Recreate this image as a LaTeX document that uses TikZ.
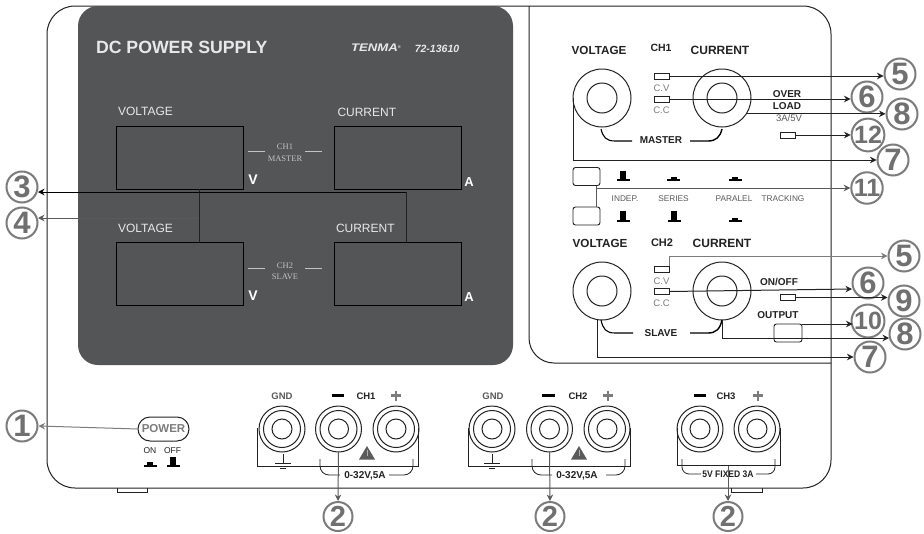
\documentclass[tikz,border=0pt]{standalone}
\usepackage{graphicx}
\usepackage{fontspec}
\setmainfont{Liberation Sans}
\newfontfamily\serifx{Liberation Serif}
\usetikzlibrary{arrows.meta}
\definecolor{panel}{HTML}{545557}
\definecolor{ink}{HTML}{222222}
\definecolor{mid}{HTML}{5A5A5A}
\definecolor{soft}{HTML}{7C7C7C}
\definecolor{light}{HTML}{E8E8E8}
\newcommand\fsz[1]{\fontsize{#1}{#1}\selectfont}
\tikzset{
  edge/.style={draw=ink,line width=1pt},
  txt/.style={inner sep=0pt,outer sep=0pt,text=black},
  lbl/.style={txt,font=\fsz{12}},
  blbl/.style={txt,font=\fsz{11.7}\bfseries,text=ink},
  slbl/.style={txt,font=\fsz{10}\bfseries,text=ink},
  tiny/.style={txt,font=\fsz{8.3},text=mid},
  dlbl/.style={txt,font=\fsz{12},text=light},
  disp/.style={draw=black,line width=0.9pt,minimum width=127,minimum height=63,inner sep=0pt,outer sep=0pt},
  knob/.style={circle,draw=ink,line width=1pt,minimum size=58,inner sep=0pt,outer sep=0pt},
  post/.style={circle,draw=ink,line width=1pt,minimum size=46,inner sep=0pt,outer sep=0pt},
  led/.style={draw=ink,line width=0.8pt,minimum width=15,minimum height=6,inner sep=0pt,outer sep=0pt},
  pushb/.style={draw=ink,line width=0.9pt,rounded corners=2.5,minimum width=27,minimum height=18,inner sep=0pt,outer sep=0pt},
  callout/.style={circle,draw=soft,line width=2pt,minimum size=31,inner sep=0pt,outer sep=1pt,text=soft!90!black,font=\fsz{31}\bfseries},
  calloutw/.style={callout,font=\fsz{25}\bfseries},
  con/.style={line width=1pt,draw=ink,-{Stealth[length=6.5pt,width=6.5pt]}},
  cong/.style={con,draw=mid},
  conl/.style={con,draw=soft},
}
% mini push-button: x, base y, body height
\newcommand\btnmark[3]{\fill[black] (#1-6.5,#2) rectangle (#1+6.5,#2-1.6);\fill[black] (#1-3,#2) rectangle (#1+3,#2-#3);}
\newcommand\groundmark[2]{\draw[ink,line width=0.8pt] (#1,#2-9)--(#1,#2) (#1-8,#2)--(#1+8,#2) (#1-6,#2+3)--(#1+6,#2+3) (#1-3,#2+5.5)--(#1+3,#2+5.5);}
\newcommand\warnmark[1]{\fill[mid] (#1-8,459.5)--(#1+8,459.5)--(#1,446)--cycle;\draw[light!60!mid,line width=0.5pt] (#1,450)--(#1,456);}
\newcommand\postrings[1]{\draw[ink,line width=1pt] (#1,429) circle[radius=18.5] (#1,429) circle[radius=10];}
\begin{document}
\begin{tikzpicture}[x=1pt,y=-1pt]
\useasboundingbox (0,0) rectangle (924,533);
\fill[white] (0,0) rectangle (924,533);
% faceplate
\draw[edge,rounded corners=28] (47,6) rectangle (831,488);
\draw[edge] (117,488)--(117,492)--(147,492)--(147,488);
\draw[edge] (731,488)--(731,492)--(762,492)--(762,488);
\fill[panel,rounded corners=20] (78,6) rectangle (513,365);
\draw[edge,rounded corners=25] (529,6)--(529,363)--(831,363);
% display panel
\node[txt,text=light,font=\fsz{17.7}\bfseries,anchor=west] (title) at (96,47) {DC POWER SUPPLY};
\node[txt,text=light,font=\fsz{11}\bfseries\itshape] (brand) at (376,48) {\scalebox{1.2}[1]{TENMA}\raisebox{3pt}{\fsz{4}®}};
\node[txt,text=light,font=\fsz{10.5}\itshape\bfseries] (model) at (437,49) {72-13610};
\node[dlbl,anchor=west] (tv1) at (118,111.5) {VOLTAGE};
\node[dlbl,anchor=west] (tc1) at (337.5,112) {CURRENT};
\node[dlbl,anchor=west] (tv2) at (118,228) {VOLTAGE};
\node[dlbl,anchor=west] (tc2) at (336,228) {CURRENT};
\node[disp] (d1v) at (179.5,157.5) {};
\node[disp] (d1c) at (398,157.5) {};
\node[disp] (d2v) at (179.5,273.5) {};
\node[disp] (d2c) at (398,273.5) {};
\node[txt,text=white,font=\fsz{14}\bfseries] (uv1) at (253,180) {V};
\node[txt,text=white,font=\fsz{13}\bfseries] (ua1) at (469,182) {A};
\node[txt,text=white,font=\fsz{14}\bfseries] (uv2) at (253,296) {V};
\node[txt,text=white,font=\fsz{13}\bfseries] (ua2) at (469,297) {A};
\node[txt,text=light!75!panel,font=\fsz{8.5}\serifx] (m1a) at (285,147) {CH1};
\node[txt,text=light!75!panel,font=\fsz{8.5}\serifx] (m1b) at (285,159) {MASTER};
\node[txt,text=light!75!panel,font=\fsz{8.5}\serifx] (m2a) at (285,266) {CH2};
\node[txt,text=light!75!panel,font=\fsz{8.5}\serifx] (m2b) at (285,277) {SLAVE};
\draw[light!75!panel,line width=1pt] (248,151)--(265,151) (305,151)--(322,151) (248,268.5)--(265,268.5) (305,268.5)--(322,268.5);
% CH1 controls
\node[blbl] (v1) at (599,50) {VOLTAGE};
\node[txt,font=\fsz{10.5}\bfseries,text=ink] (ch1) at (661,48) {CH1};
\node[txt,font=\fsz{12}\bfseries,text=ink] (c1) at (720,50) {CURRENT};
\node[knob] (k1v) at (602,98) {};
\node[knob] (k1c) at (722,98) {};
\draw[ink,line width=1pt] (602,98) circle[radius=15] (722,98) circle[radius=15];
\node[led] (l1) at (661.5,76) {};
\node[led] (l2) at (661.5,99) {};
\node[txt,font=\fsz{9.5},text=soft] (cv1) at (661.5,88) {C.V};
\node[txt,font=\fsz{9.5},text=soft] (cc1) at (661.5,110.5) {C.C};
\node[slbl] (ol1) at (787,94) {OVER};
\node[slbl] (ol2) at (787,106) {LOAD};
\node[txt,font=\fsz{9.5},text=mid] (ol3) at (789,118.5) {3A/5V};
\node[led] (l3) at (788,135) {};
\node[slbl] (master) at (661,140) {MASTER};
\draw[black,line width=1.1pt] (601,129) .. controls (603,137) and (606,141) .. (615,141) -- (632,141);
\draw[black,line width=1.4pt] (690,141) -- (708,141) .. controls (716,141) and (720,137) .. (722,129);
% mode buttons
\node[pushb] (b1) at (586.5,176.5) {};
\node[pushb] (b2) at (586.5,216) {};
\btnmark{623}{181}{10}
\btnmark{673.5}{181}{4}
\btnmark{735}{181}{4}
\btnmark{623}{222}{11}
\btnmark{674}{222}{11}
\btnmark{735}{222}{4}
\node[tiny] (i1) at (625,199) {INDEP.};
\node[tiny] (i2) at (673.5,199) {SERIES};
\node[tiny] (i3) at (734,199) {PARALEL};
\node[tiny] (i4) at (783,199) {TRACKING};
% CH2 controls
\node[blbl] (v2) at (600,243) {VOLTAGE};
\node[txt,font=\fsz{11}\bfseries,text=ink] (ch2) at (662,243) {CH2};
\node[txt,font=\fsz{12}\bfseries,text=ink] (c2) at (722,243) {CURRENT};
\node[knob] (k2v) at (602,291) {};
\node[knob] (k2c) at (722,291) {};
\draw[ink,line width=1pt] (602,291) circle[radius=15] (722,291) circle[radius=15];
\node[led] (l4) at (661.5,269) {};
\node[led] (l5) at (661.5,291.5) {};
\node[txt,font=\fsz{9.5},text=soft] (cv2) at (661.5,281) {C.V};
\node[txt,font=\fsz{9.5},text=soft] (cc2) at (661.5,303) {C.C};
\node[slbl] (onoff) at (779,282) {ON/OFF};
\node[led] (l6) at (788,297.5) {};
\node[slbl] (outp) at (778,315) {OUTPUT};
\node[pushb,minimum width=28,minimum height=18] (bo) at (788,333) {};
\node[slbl] (slave) at (661,333.5) {SLAVE};
\draw[black,line width=1.1pt] (601,320) .. controls (603,329) and (606,333) .. (615,333) -- (633,333);
\draw[black,line width=1.4pt] (690,333) -- (708,333) .. controls (716,333) and (720,329) .. (722,320);
% POWER
\node[draw=ink,line width=1pt,rounded corners=12,minimum width=51,minimum height=24,inner sep=0pt,outer sep=0pt,text=soft,font=\fsz{11.5}\bfseries] (power) at (163.5,429) {POWER};
\node[txt,font=\fsz{8.5},text=ink] (on) at (150,451) {ON};
\node[txt,font=\fsz{8.5},text=ink] (off) at (172.5,451) {OFF};
\btnmark{150}{467}{5}
\btnmark{173}{467}{10}
% terminals
\node[txt,font=\fsz{9.5}\bfseries,text=mid] (g1) at (282,396) {GND};
\node[txt,font=\fsz{9.5}\bfseries,text=ink] (t1) at (366,396) {CH1};
\node[txt,font=\fsz{9.5}\bfseries,text=mid] (g2) at (493,396) {GND};
\node[txt,font=\fsz{9.5}\bfseries,text=ink] (t2) at (578,396) {CH2};
\node[txt,font=\fsz{9.5}\bfseries,text=ink] (t3) at (726,396) {CH3};
\draw[black,line width=2.4pt] (331.5,395.5)--(344,395.5) (542,395.5)--(554.5,395.5) (694,395.5)--(706,395.5);
\draw[soft,line width=2.2pt] (391,395.5)--(401,395.5) (396,390.5)--(396,400.5) (603,395.5)--(613,395.5) (608,390.5)--(608,400.5) (753,395.5)--(763,395.5) (758,390.5)--(758,400.5);
\node[post] (p1) at (282,429) {};
\node[post] (p2) at (338.5,429) {};
\node[post] (p3) at (396,429) {};
\node[post] (p4) at (492,429) {};
\node[post] (p5) at (549.5,429) {};
\node[post] (p6) at (607,429) {};
\node[post] (p7) at (700,429) {};
\node[post] (p8) at (757,429) {};
\postrings{282}\postrings{338.5}\postrings{396}\postrings{492}\postrings{549.5}\postrings{607}\postrings{700}\postrings{757}
\draw[edge] (257,428)--(257,466)--(418,466)--(418,428);
\draw[edge] (468,428)--(468,466)--(630,466)--(630,428);
\draw[edge] (677,428)--(677,465.5)--(780,465.5)--(780,428);
\groundmark{283}{463}
\groundmark{492}{463}
\warnmark{367}
\warnmark{579}
\node[txt,font=\fsz{10}\bfseries,text=ink] (r1) at (365,476) {0-32V,5A};
\node[txt,font=\fsz{10}\bfseries,text=ink] (r2) at (577,476) {0-32V,5A};
\node[txt,font=\fsz{9.5}\bfseries,text=ink] (r3) at (728,474) {\scalebox{0.9}[1]{5V FIXED 3A}};
\draw[ink,line width=0.8pt,rounded corners=9] (320,459)--(320,475)--(340,475) (389,475)--(413,475)--(413,459);
\draw[ink,line width=0.8pt,rounded corners=9] (532,459)--(532,475)--(552,475) (606,475)--(625,475)--(625,459);
\draw[ink,line width=0.8pt,rounded corners=7] (682,459)--(682,474)--(701,474) (756,474)--(775,474)--(775,459);
% callouts
\node[callout] (n1) at (22,426) {1};
\node[callout,minimum size=29,font=\fsz{29}\bfseries] (n2a) at (338,516.5) {2};
\node[callout,minimum size=29,font=\fsz{29}\bfseries] (n2b) at (550,516.5) {2};
\node[callout,minimum size=29,font=\fsz{29}\bfseries] (n2c) at (728,516.5) {2};
\node[callout] (n3) at (22,187) {3};
\node[callout] (n4) at (22,223) {4};
\node[callout] (n5a) at (900,74) {5};
\node[callout] (n6a) at (867,97) {6};
\node[callout] (n8a) at (902,114) {8};
\node[calloutw] (n12) at (868,135) {12};
\node[callout] (n7a) at (893,160) {7};
\node[calloutw] (n11) at (867,188) {11};
\node[callout] (n5b) at (904,256) {5};
\node[callout] (n6b) at (868,283) {6};
\node[callout] (n9) at (904,301) {9};
\node[calloutw] (n10) at (868,321) {10};
\node[callout] (n8b) at (905,334) {8};
\node[callout] (n7b) at (870,357) {7};
% free ends and junctions
\coordinate (j3a) at (199,189);
\coordinate (j3b) at (199,242);
\coordinate (j3c) at (406,192);
\coordinate (j3d) at (406,242);
\coordinate (j4) at (199,218);
\coordinate (j3e) at (38,192);
\coordinate (j4e) at (38,218);
\coordinate (s11) at (596,188);
\coordinate (e6b) at (852,289);
\coordinate (e10) at (852.5,324);
\coordinate (e8b) at (889,338);
\coordinate (s7b) at (597,320);
\coordinate (s2c) at (728,465.5);
% connectors
\draw[conl] (power.west) -- (n1.east);
\draw[con,draw=mid] (p2.south) -- (n2a.north);
\draw[con,draw=mid] (p5.south) -- (n2b.north);
\draw[con,draw=mid] (s2c) -- (n2c.north);
\draw[ink,line width=1pt] (j3a) -- (j3b) (j3c) -- (j3d);
\draw[con,draw=black] (j3c) -- (j3e);
\draw[cong] (j4) -- (j4e);
\draw[con] (l1.east) -- (l1.east -| n5a.west);
\draw[con] (l2.east) -- (l2.east -| n6a.west);
\draw[con] (k1c.-33) -- (k1c.-33 -| n8a.west);
\draw[con] (l3.east) -- (l3.east -| n12.west);
\draw[con] (k1v.west) |- (n7a.west);
\draw[mid,line width=1pt] (596,185.5) -- (596,207);
\draw[cong] (s11) -- (s11 -| n11.west);
\draw[conl] (l4.north east) |- (n5b.west);
\draw[con] (l5.east) -- (e6b);
\draw[con] (l6.east) -- (l6.east -| n9.west);
\draw[con] (bo.north east) -- (e10);
\draw[con] (k2c.south) |- (e8b);
\draw[con] (s7b) |- (n7b.west);
\end{tikzpicture}
\end{document}
